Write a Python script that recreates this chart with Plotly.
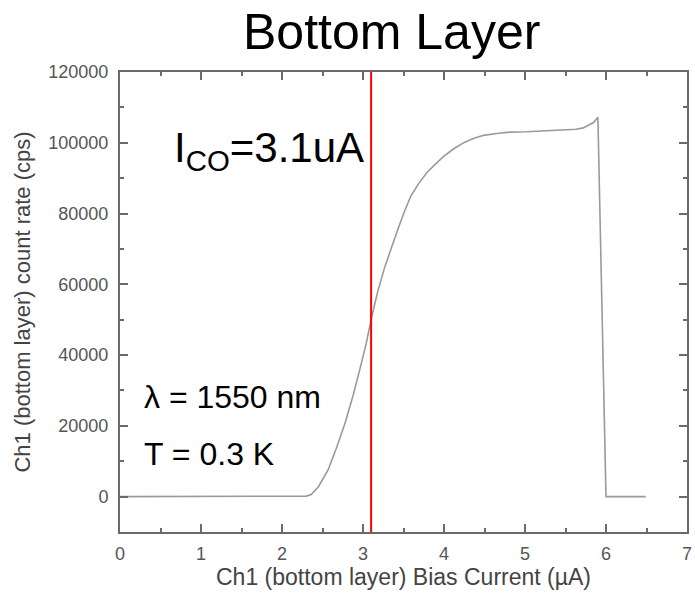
import plotly.graph_objects as go

# Data
bias_current = [0, 2.2, 2.3, 2.36, 2.45, 2.57, 2.67, 2.78, 2.88, 2.97, 3.04, 3.10, 3.18,
                3.27, 3.35, 3.43, 3.51, 3.59, 3.69, 3.79, 3.90, 4.00, 4.12, 4.25, 4.37,
                4.49, 4.65, 4.81, 5.02, 5.23, 5.43, 5.63, 5.72, 5.79, 5.85, 5.90, 6.00, 6.49]
count_rate = [0, 0, 150, 570, 2800, 7600, 13600, 20900, 28800, 36800, 43300, 50000, 57800,
              65000, 70500, 75500, 80500, 84900, 88600, 91600, 94100, 96200, 98300, 100100, 101300,
              102100, 102600, 103000, 103100, 103300, 103500, 103800, 104200, 105000, 105800, 107200, 0, 0]
i_co = 3.1
x_ticks = [0, 1, 2, 3, 4, 5, 6, 7]
y_ticks = [0, 20000, 40000, 60000, 80000, 100000, 120000]

FONT = "Liberation Sans, Arial, sans-serif"
AX = "#6a6a6a"

fig = go.Figure()
fig.add_trace(go.Scatter(x=bias_current, y=count_rate, mode="lines",
                         line=dict(color="#9a9a9a", width=1.6), showlegend=False,
                         hoverinfo="skip"))

fig.add_shape(type="line", x0=i_co, x1=i_co, xref="x", y0=0, y1=1, yref="paper",
              line=dict(color="#ff0000", width=2))

axis_common = dict(showgrid=False, zeroline=False, showline=True, linecolor=AX, linewidth=2,
                   mirror="allticks", ticks="inside", ticklen=8, tickwidth=1.5, tickcolor=AX,
                   ticklabeloverflow="allow",
                   tickfont=dict(family=FONT, size=18, color="#555555"))

fig.update_xaxes(range=[0, 7], tickvals=x_ticks, ticktext=[str(v) for v in x_ticks],
                 minor=dict(dtick=0.5, ticks="inside", ticklen=4, tickcolor=AX, tickwidth=1.5),
                 title=dict(text="Ch1 (bottom layer) Bias Current (\u00b5A)",
                            font=dict(family=FONT, size=23, color="#444444"), standoff=6),
                 ticklabelstandoff=4,
                 **axis_common)
fig.update_yaxes(range=[-10000, 120000], tickvals=y_ticks, ticktext=[str(v) for v in y_ticks],
                 minor=dict(dtick=10000, ticks="inside", ticklen=4, tickcolor=AX, tickwidth=1.5),
                 title=dict(text="Ch1 (bottom layer) count rate (cps)",
                            font=dict(family=FONT, size=22, color="#444444"), standoff=12),
                 ticklabelstandoff=6,
                 **axis_common)

def px_to_paper_y(py):
    return (532 - py) / 460

def px_to_paper_x(px):
    return (px - 120) / 572

fig.add_annotation(text="Bottom Layer", xref="paper", yref="paper",
                   x=px_to_paper_x(394), y=px_to_paper_y(32), xanchor="center", yanchor="middle",
                   showarrow=False, font=dict(family=FONT, size=50, color="#000000"))
fig.add_annotation(text="I<sub>CO</sub>=3.1uA", xref="paper", yref="paper",
                   x=px_to_paper_x(172), y=px_to_paper_y(150), xanchor="left", yanchor="middle",
                   showarrow=False, font=dict(family=FONT, size=42, color="#000000"))
fig.add_annotation(text="\u03bb = 1550 nm", xref="paper", yref="paper",
                   x=px_to_paper_x(142), y=px_to_paper_y(397), xanchor="left", yanchor="middle",
                   showarrow=False, font=dict(family=FONT, size=32, color="#000000"))
fig.add_annotation(text="T = 0.3 K", xref="paper", yref="paper",
                   x=px_to_paper_x(142), y=px_to_paper_y(454), xanchor="left", yanchor="middle",
                   showarrow=False, font=dict(family=FONT, size=32, color="#000000"))

fig.update_layout(width=695, height=600, paper_bgcolor="white", plot_bgcolor="white",
                  margin=dict(l=120, r=3, t=72, b=68), font=dict(family=FONT))

fig.write_html("out.html")
